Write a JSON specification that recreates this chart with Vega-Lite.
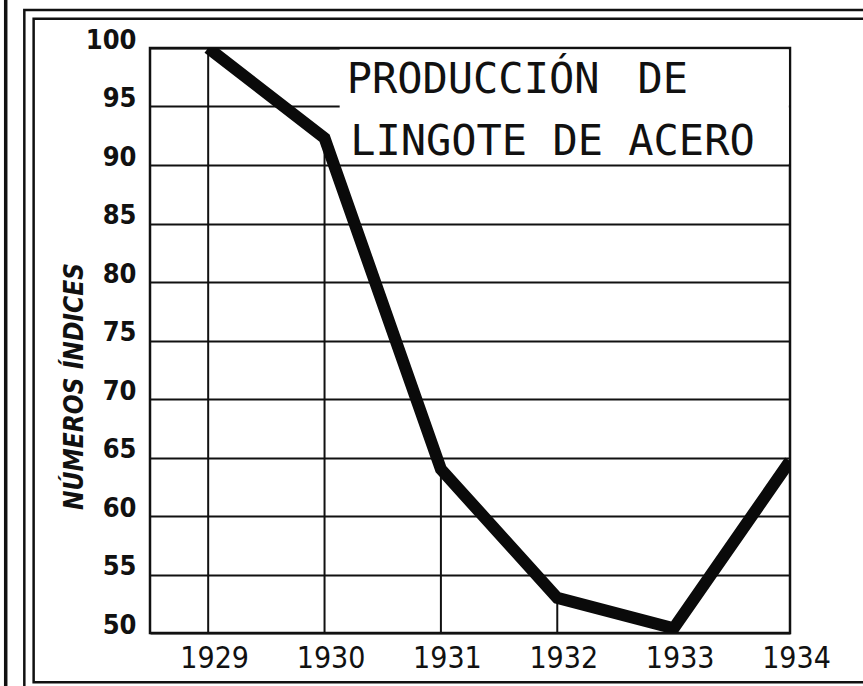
{
  "$schema": "https://vega.github.io/schema/vega-lite/v6.json",
  "width": 640,
  "height": 585,
  "autosize": "none",
  "padding": {"left": 150, "top": 48, "right": 73, "bottom": 53},
  "background": "white",
  "config": {
    "view": {"stroke": "#111111", "strokeWidth": 2.5},
    "font": "DejaVu Sans Condensed, DejaVu Sans"
  },
  "datasets": {
    "steel": [
      {"year": 1929, "index": 100},
      {"year": 1930, "index": 92.3},
      {"year": 1931, "index": 64},
      {"year": 1932, "index": 53},
      {"year": 1933, "index": 50.4},
      {"year": 1934, "index": 64.7}
    ],
    "titles": [
      {"text": "PRODUCCIÓN", "year": 1930.19, "index": 96.15},
      {"text": "DE", "year": 1932.69, "index": 96.15},
      {"text": "LINGOTE DE ACERO", "year": 1930.22, "index": 90.85}
    ],
    "mask": [
      {"year": 1930.13, "year2": 1933.99, "index": 99.9, "index2": 90.1}
    ],
    "frame": [
      {"year": 1927.42, "year2": 1934.9, "index": 103.25, "index2": 44.9},
      {"year": 1927.5, "year2": 1934.85, "index": 102.5, "index2": 45.8}
    ],
    "edge": [
      {"year": 1927.26, "index": 104.5, "index2": 44}
    ]
  },
  "encoding": {
    "x": {
      "field": "year",
      "type": "quantitative",
      "title": null,
      "scale": {"domain": [1928.5, 1934], "nice": false, "zero": false},
      "axis": {
        "values": [1929, 1930, 1931, 1932, 1933, 1934],
        "format": "d",
        "grid": false,
        "ticks": false,
        "tickSize": 0,
        "domain": false,
        "labelFlush": false,
        "labelOverlap": false,
        "labelBound": false,
        "labelFontSize": 30,
        "labelColor": "#111111",
        "labelPadding": 10,
        "labelOffset": 6,
        "labelFont": "DejaVu Sans Condensed, DejaVu Sans"
      }
    },
    "y": {
      "field": "index",
      "type": "quantitative",
      "title": "NÚMEROS ÍNDICES",
      "scale": {"domain": [50, 100], "nice": false, "zero": false},
      "axis": {
        "values": [50, 55, 60, 65, 70, 75, 80, 85, 90, 95, 100],
        "grid": true,
        "gridColor": "#111111",
        "gridWidth": 2,
        "ticks": false,
        "tickSize": 0,
        "domain": false,
        "labelFlush": false,
        "labelOverlap": false,
        "labelFontSize": 27,
        "labelFontWeight": "bold",
        "labelColor": "#111111",
        "labelBaseline": "alphabetic",
        "labelPadding": 14,
        "labelFont": "DejaVu Sans Condensed, DejaVu Sans",
        "titleFont": "DejaVu Sans Condensed, DejaVu Sans",
        "titleFontSize": 26,
        "titleFontWeight": "bold",
        "titleFontStyle": "italic",
        "titleColor": "#111111",
        "titleBaseline": "middle",
        "titleAlign": "center",
        "titleX": -76,
        "titleY": 338
      }
    }
  },
  "layer": [
    {
      "data": {"name": "mask"},
      "mark": {"type": "rect", "fill": "white", "strokeWidth": 0},
      "encoding": {
        "x2": {"field": "year2", "title": null},
        "y2": {"field": "index2", "title": null}
      }
    },
    {
      "data": {"name": "steel"},
      "mark": {"type": "rule", "color": "#111111", "strokeWidth": 2},
      "encoding": {
        "y2": {"datum": 50}
      }
    },
    {
      "data": {"name": "steel"},
      "mark": {"type": "line", "color": "#0a0a0a", "strokeWidth": 12, "clip": true, "strokeJoin": "miter"},
      "encoding": {}
    },
    {
      "data": {"name": "titles"},
      "mark": {"type": "text", "font": "DejaVu Sans Mono", "fontSize": 42, "align": "left", "baseline": "alphabetic", "color": "#111111"},
      "encoding": {
        "text": {"field": "text"}
      }
    },
    {
      "data": {"name": "frame"},
      "mark": {"type": "rect", "fill": null, "fillOpacity": 0, "stroke": "#111111", "strokeWidth": 2.5, "clip": false},
      "encoding": {
        "x2": {"field": "year2", "title": null},
        "y2": {"field": "index2", "title": null}
      }
    },
    {
      "data": {"name": "edge"},
      "mark": {"type": "rule", "color": "#111111", "strokeWidth": 3.5, "clip": false},
      "encoding": {
        "y2": {"field": "index2", "title": null}
      }
    }
  ]
}
